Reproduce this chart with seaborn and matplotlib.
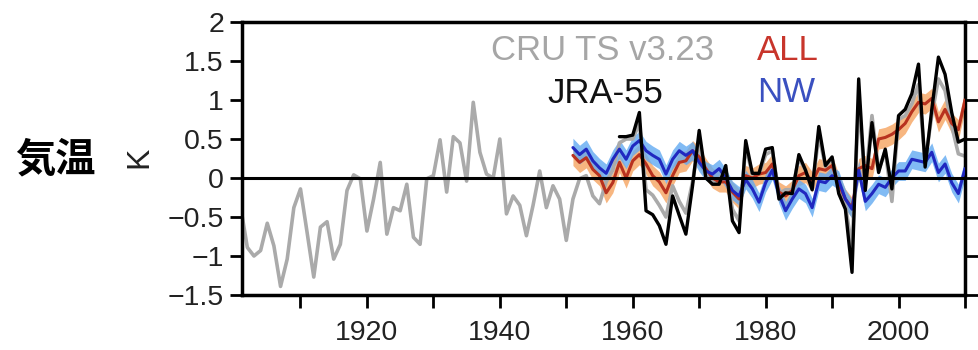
import numpy as np
import pandas as pd
import matplotlib
matplotlib.use("Agg")
import matplotlib.pyplot as plt
import seaborn as sns
from matplotlib.ticker import FixedLocator, FuncFormatter

# ---------------- data ----------------
cru_years = list(range(1901, 2011))
cru_vals = [
    -0.37, -0.89, -1.00, -0.93, -0.58, -0.87, -1.39, -1.04, -0.38, -0.14,   # 1901-1910
    -0.70, -1.27, -0.63, -0.56, -1.04, -0.85, -0.16, 0.04, -0.01, -0.68,    # 1911-1920
    -0.27, 0.20, -0.72, -0.38, -0.42, -0.08, -0.76, -0.85, -0.01, 0.03,     # 1921-1930
    0.49, -0.18, 0.53, 0.45, -0.04, 0.97, 0.33, 0.05, 0.00, 0.50,           # 1931-1940
    -0.46, -0.23, -0.35, -0.74, -0.35, 0.09, -0.38, -0.10, -0.27, -0.80,    # 1941-1950
    -0.27, -0.01, 0.03, -0.23, -0.33, -0.05, 0.10, 0.45, 0.50, 0.50,        # 1951-1960
    0.70, -0.15, -0.22, -0.35, -0.50, -0.10, -0.30, -0.45, -0.05, 0.50,     # 1961-1970
    0.02, -0.05, -0.02, 0.10, -0.40, -0.55, 0.40, 0.05, 0.05, 0.30,         # 1971-1980
    0.35, -0.20, -0.15, -0.15, 0.25, 0.10, -0.15, 0.55, 0.15, 0.25,         # 1981-1990
    -0.15, -0.35, -0.90, 0.95, -0.05, 0.80, 0.10, 0.35, -0.30, 0.75,        # 1991-2000
    0.80, 0.95, 1.20, 0.20, 0.80, 1.27, 1.12, 0.67, 0.31, 0.28,             # 2001-2010
]

jra_years = list(range(1958, 2011))
jra_vals = [
    0.53, 0.53, 0.55,                                                        # 1958-1960
    0.84, -0.42, -0.47, -0.61, -0.85, -0.23, -0.48, -0.72, -0.10, 0.61,     # 1961-1970
    0.00, -0.08, -0.08, 0.16, -0.55, -0.70, 0.48, 0.06, 0.06, 0.37,         # 1971-1980
    0.39, -0.27, -0.19, -0.20, 0.30, 0.10, -0.15, 0.66, 0.16, 0.27,         # 1981-1990
    -0.20, -0.40, -1.21, 1.27, -0.16, 0.71, 0.07, 0.37, -0.14, 0.80,        # 1991-2000
    0.88, 1.08, 1.46, 0.14, 0.88, 1.55, 1.33, 0.84, 0.46, 0.50,             # 2001-2010
]

model_years = list(range(1951, 2011))
all_mean = [
    0.29, 0.20, 0.26, 0.11, 0.03, -0.19, -0.06, 0.20, 0.00, 0.22,           # 1951-1960
    0.30, 0.18, 0.03, -0.05, -0.19, 0.03, 0.20, 0.22, 0.35, 0.27,           # 1961-1970
    0.12, 0.00, -0.05, -0.05, -0.18, -0.27, 0.03, 0.00, 0.05, 0.07,         # 1971-1980
    0.18, -0.18, -0.23, -0.16, 0.03, 0.07, -0.05, 0.12, 0.10, 0.16,         # 1981-1990
    -0.08, -0.27, -0.38, 0.12, 0.16, 0.12, 0.50, 0.52, 0.56, 0.62,          # 1991-2000
    0.70, 0.85, 0.97, 0.95, 1.02, 0.72, 0.88, 0.70, 0.62, 1.00,             # 2001-2010
]
nw_mean = [
    0.39, 0.30, 0.37, 0.22, 0.13, 0.06, 0.24, 0.37, 0.24, 0.41,             # 1951-1960
    0.48, 0.35, 0.29, 0.24, 0.05, 0.24, 0.35, 0.29, 0.35, 0.20,             # 1961-1970
    0.09, 0.05, 0.12, 0.00, -0.16, -0.23, -0.02, -0.14, -0.31, -0.06,       # 1971-1980
    0.10, -0.21, -0.42, -0.27, -0.14, -0.20, -0.38, -0.04, -0.06, 0.03,     # 1981-1990
    -0.03, -0.27, -0.40, 0.10, -0.30, -0.20, -0.08, -0.12, 0.00, 0.09,      # 1991-2000
    0.09, 0.24, 0.22, 0.20, 0.33, 0.07, 0.18, -0.06, -0.20, 0.12,           # 2001-2010
]
all_spread = 0.13
nw_spread = 0.12

y_ticks = [-1.5, -1, -0.5, 0, 0.5, 1, 1.5, 2]
x_ticks = list(range(1910, 2011, 10))
x_labels_shown = [1920, 1940, 1960, 1980, 2000]

# ---------------- style ----------------
sns.set_style("ticks")
plt.rcParams['font.family'] = ['Liberation Sans', 'DejaVu Sans']
plt.rcParams['axes.unicode_minus'] = True

C_CRU = "#aaaaaa"
C_ALL = "#b8321f"
C_ALL_BAND = "#f6a461"
C_NW = "#2028c0"
C_NW_BAND = "#62aaf2"

fig = plt.figure(figsize=(9.79, 3.5), dpi=100)
ax = fig.add_axes([242/979, 1-295/350, 723/979, 273/350])

cru_df = pd.DataFrame({"year": cru_years, "val": cru_vals})
jra_df = pd.DataFrame({"year": jra_years, "val": jra_vals})
mod_df = pd.DataFrame({"year": model_years, "all": all_mean, "nw": nw_mean})

# bands
ax.fill_between(mod_df["year"], mod_df["all"] - all_spread, mod_df["all"] + all_spread,
                color=C_ALL_BAND, alpha=0.8, lw=0, zorder=1)
ax.fill_between(mod_df["year"], mod_df["nw"] - nw_spread, mod_df["nw"] + nw_spread,
                color=C_NW_BAND, alpha=0.8, lw=0, zorder=1.1)

sns.lineplot(data=cru_df, x="year", y="val", ax=ax, color=C_CRU, lw=2.6, zorder=2)
sns.lineplot(data=mod_df, x="year", y="all", ax=ax, color=C_ALL, lw=2.2, zorder=3)
sns.lineplot(data=mod_df, x="year", y="nw", ax=ax, color=C_NW, lw=2.2, zorder=3.1)
sns.lineplot(data=jra_df, x="year", y="val", ax=ax, color="black", lw=2.4, zorder=4)

ax.axhline(0, color="black", lw=2.2, zorder=3.5)

ax.set_xlim(1901.2, 2010)
ax.set_ylim(-1.5, 2)
ax.set_xlabel("")
ax.set_ylabel("")

ax.yaxis.set_major_locator(FixedLocator(y_ticks))
ax.yaxis.set_major_formatter(FuncFormatter(lambda v, p: f"{v:g}".replace("-", "\u2212")))
ax.xaxis.set_major_locator(FixedLocator(x_ticks))
ax.xaxis.set_major_formatter(FuncFormatter(lambda v, p: f"{int(round(v))}" if int(round(v)) in x_labels_shown else ""))

for s in ax.spines.values():
    s.set_visible(True)
    s.set_linewidth(2.5)
    s.set_color("black")

ax.tick_params(axis="both", direction="out", length=9, width=2, color="black",
               labelsize=20.5, labelcolor="#222222")
ax.tick_params(axis="y", left=True, right=True, labelright=False, pad=4)
ax.tick_params(axis="x", bottom=True, top=False, pad=9)

# legend texts
ax.text(0.499, 0.861, "CRU TS v3.23", transform=ax.transAxes, ha="center", va="baseline",
        fontsize=25, color="#a6a6a6")
ax.text(0.502, 0.703, "JRA-55", transform=ax.transAxes, ha="center", va="baseline",
        fontsize=25, color="#111111")
ax.text(0.712, 0.861, "ALL", transform=ax.transAxes, ha="left", va="baseline",
        fontsize=25, color="#c8352b")
ax.text(0.712, 0.707, "NW", transform=ax.transAxes, ha="left", va="baseline",
        fontsize=25, color="#3a50c0")

# left labels
fig.text(55/979, 1-160/350, "気温", ha="center", va="center", fontsize=29,
         fontweight="bold", family=["Noto Sans CJK JP", "DejaVu Sans"], color="black")
fig.text(139/979, 1-157.5/350, "K", ha="center", va="center", fontsize=23,
         rotation=90, color="#222222")

fig.savefig("out.png", dpi=100)
